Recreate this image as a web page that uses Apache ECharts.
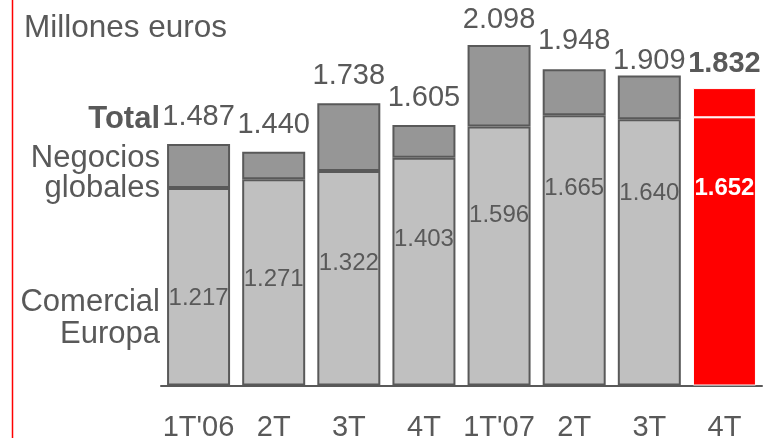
<!DOCTYPE html>
<html>
<head>
<meta charset="utf-8">
<script src="https://cdn.jsdelivr.net/npm/echarts@6/dist/echarts.min.js"></script>
<style>
  html, body { margin: 0; padding: 0; background: #fff; }
  #chart { width: 773px; height: 438px; }
</style>
</head>
<body>
<div id="chart"></div>
<script>
// Quarterly figures, millions of euros
var quarters = ["1T'06", '2T', '3T', '4T', "1T'07", '2T', '3T', '4T'];
var comercialEuropa = [1217, 1271, 1322, 1403, 1596, 1665, 1640, 1652];
var negociosGlobales = [270, 169, 416, 202, 502, 283, 269, 180];
var totals = [1487, 1440, 1738, 1605, 2098, 1948, 1909, 1832];

// Label placement (pixels): inner label centre below segment top, total label centre above bar top
var innerLabelDrop = [110, 100, 92, 82, 89, 73, 74, 71];
var totalLabelRise = [27, 27, 27, 27, 25, 28, 15, 24];

var FONT = '"Liberation Sans", Arial, sans-serif';
var GREY_TEXT = '#595959';
var HIGHLIGHT = 8 - 1; // latest quarter drawn in red

function fmt(v) {
  return String(v).replace(/\B(?=(\d{3})+(?!\d))/g, '.');
}

var comercialData = comercialEuropa.map(function (v, i) {
  var hi = i === HIGHLIGHT;
  return {
    value: v,
    itemStyle: hi ? { color: '#ff0000', borderColor: '#ffffff', borderWidth: 1 } : {},
    label: {
      show: true,
      position: ['50%', innerLabelDrop[i]],
      align: 'center',
      verticalAlign: 'middle',
      formatter: fmt(v),
      color: hi ? '#ffffff' : GREY_TEXT,
      fontWeight: hi ? 'bold' : 'normal'
    }
  };
});

var negociosData = negociosGlobales.map(function (v, i) {
  var hi = i === HIGHLIGHT;
  return {
    value: v,
    itemStyle: hi ? { color: '#ff0000', borderColor: '#ffffff', borderWidth: 1 } : {},
    label: {
      show: true,
      position: ['50%', -totalLabelRise[i]],
      align: 'center',
      verticalAlign: 'middle',
      formatter: fmt(totals[i]),
      fontWeight: hi ? 'bold' : 'normal'
    }
  };
});

var chart = echarts.init(document.getElementById('chart'), null, { renderer: 'canvas' });

chart.setOption({
  animation: false,
  backgroundColor: '#ffffff',
  textStyle: { fontFamily: FONT },
  grid: {
    left: 161, right: 11, top: 4, bottom: 52.5,
    containLabel: false,
    outerBoundsMode: 'none'
  },
  xAxis: {
    type: 'category',
    data: quarters,
    axisLine: { show: true, lineStyle: { color: GREY_TEXT, width: 2 } },
    axisTick: { show: false },
    axisLabel: { interval: 0, color: GREY_TEXT, fontSize: 29, fontFamily: FONT, margin: 28 }
  },
  yAxis: {
    type: 'value',
    min: 0,
    max: 2350,
    show: false,
    splitLine: { show: false }
  },
  series: [
    {
      name: 'Comercial Europa',
      type: 'bar',
      stack: 'total',
      barWidth: 63,
      itemStyle: { color: '#c0c0c0', borderColor: GREY_TEXT, borderWidth: 2 },
      label: { fontSize: 24, fontFamily: FONT },
      data: comercialData
    },
    {
      name: 'Negocios globales',
      type: 'bar',
      stack: 'total',
      barWidth: 63,
      itemStyle: { color: '#969696', borderColor: GREY_TEXT, borderWidth: 2 },
      label: { fontSize: 29, fontFamily: FONT, color: GREY_TEXT },
      data: negociosData
    }
  ],
  graphic: [
    {
      type: 'line',
      shape: { x1: 12.5, y1: 0, x2: 12.5, y2: 438 },
      style: { stroke: '#ff0000', lineWidth: 1.5 }
    },
    {
      type: 'text', x: 24, y: 28.5,
      style: { text: 'Millones euros', fill: GREY_TEXT, font: '31.5px ' + FONT, align: 'left', verticalAlign: 'middle' }
    },
    {
      type: 'text', x: 160, y: 119,
      style: { text: 'Total', fill: GREY_TEXT, font: 'bold 31px ' + FONT, align: 'right', verticalAlign: 'middle' }
    },
    {
      type: 'text', x: 160, y: 173.5,
      style: { text: 'Negocios\nglobales', fill: GREY_TEXT, font: '31px ' + FONT, align: 'right', verticalAlign: 'middle', lineHeight: 30 }
    },
    {
      type: 'text', x: 160, y: 318,
      style: { text: 'Comercial\nEuropa', fill: GREY_TEXT, font: '31px ' + FONT, align: 'right', verticalAlign: 'middle', lineHeight: 32 }
    }
  ]
});
</script>
</body>
</html>
